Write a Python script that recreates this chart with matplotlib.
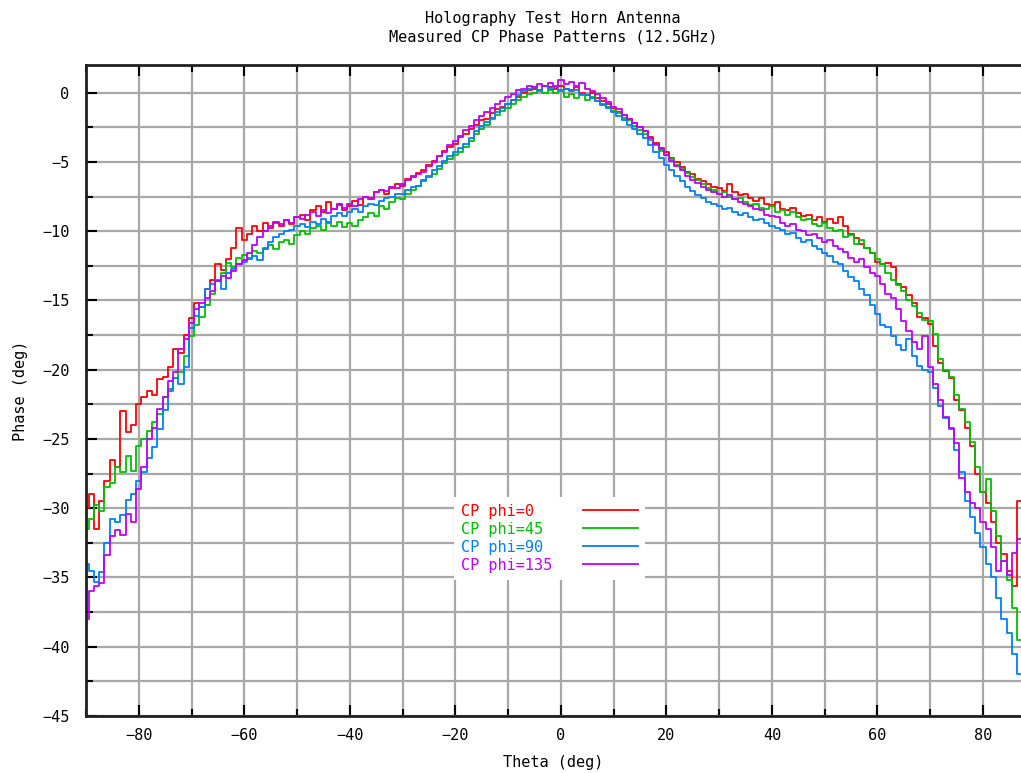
import matplotlib
matplotlib.use('Agg')
import matplotlib.pyplot as plt
from matplotlib.ticker import MultipleLocator
import numpy as np

theta = np.arange(-90, 88, 1)

phase_phi0 = [
    -30.0, -29.0, -31.5, -29.5, -28.0, -26.5, -27.0, -23.0, -24.5, -24.0,
    -22.5, -22.0, -21.5, -21.8, -20.7, -20.5, -19.8, -18.5, -18.8, -17.5,
    -16.3, -15.2, -15.5, -14.2, -13.5, -12.4, -12.8, -12.0, -11.2, -9.8,
    -10.6, -10.2, -9.6, -10.0, -9.4, -9.8, -9.3, -9.6, -9.2, -9.5,
    -9.0, -8.8, -9.2, -8.5, -8.2, -8.6, -7.9, -8.4, -8.0, -8.5,
    -8.2, -7.8, -8.1, -7.5, -7.7, -7.2, -7.0, -7.3, -6.9, -6.6,
    -6.7, -6.2, -6.0, -5.8, -5.6, -5.2, -4.9, -4.6, -4.2, -3.9,
    -3.7, -3.2, -3.0, -2.6, -2.3, -2.0, -1.9, -1.5, -1.2, -1.0,
    -0.8, -0.5, -0.3, 0.0, 0.2, 0.3, 0.2, 0.5, 0.4, 0.3,
    0.5, 0.3, 0.2, 0.4, 0.0, -0.2, 0.0, -0.4, -0.6, -0.8,
    -1.1, -1.4, -1.6, -1.9, -2.2, -2.5, -2.8, -3.2, -3.6, -4.0,
    -4.3, -4.7, -5.0, -5.4, -5.7, -5.9, -6.2, -6.4, -6.6, -6.8,
    -6.9, -7.1, -6.6, -7.2, -7.4, -7.3, -7.6, -7.8, -7.6, -8.0,
    -8.1, -7.9, -8.4, -8.5, -8.3, -8.7, -8.9, -8.8, -9.2, -9.0,
    -9.3, -9.1, -9.4, -9.0, -9.6, -10.2, -10.5, -10.9, -11.2, -11.6,
    -12.2, -12.4, -12.3, -12.6, -13.8, -14.0, -14.6, -15.2, -16.2, -16.3,
    -16.7, -18.3, -19.5, -20.1, -20.6, -22.2, -22.9, -24.2, -25.5, -27.5,
    -28.8, -29.6, -31.0, -32.5, -33.3, -34.5, -35.6, -29.5,
]

phase_phi45 = [
    -31.5, -30.8, -29.8, -30.2, -28.5, -28.2, -27.0, -27.4, -26.2, -27.3,
    -25.5, -25.0, -24.4, -23.8, -23.2, -22.0, -21.4, -20.6, -20.2, -19.0,
    -17.6, -16.8, -16.2, -15.3, -14.5, -13.6, -13.0, -12.3, -12.6, -11.9,
    -11.7, -11.9, -11.4, -11.6, -11.2, -11.0, -11.3, -10.8, -10.6, -10.9,
    -10.3, -10.0, -10.2, -9.8, -9.6, -9.9, -9.4, -9.6, -9.3, -9.7,
    -9.4, -9.6, -9.2, -9.0, -8.7, -8.9, -8.2, -8.4, -7.9, -7.6,
    -7.7, -7.3, -7.0, -6.7, -6.4, -6.1, -5.9, -5.5, -5.1, -4.8,
    -4.5, -4.3, -3.9, -3.5, -3.0, -2.6, -2.3, -1.9, -1.6, -1.3,
    -1.1, -0.8, -0.5, -0.3, -0.1, 0.0, 0.1, 0.0, 0.2, 0.0,
    0.1, -0.3, -0.1, -0.4, -0.2, -0.5, -0.3, -0.6, -0.8, -1.0,
    -1.3, -1.5, -1.8, -2.0, -2.4, -2.7, -3.0, -3.4, -3.8, -4.2,
    -4.5, -4.8, -5.2, -5.5, -5.8, -6.1, -6.3, -6.6, -6.9, -7.0,
    -7.3, -7.2, -7.5, -7.7, -7.6, -7.9, -8.1, -8.0, -8.3, -8.4,
    -8.2, -8.6, -8.5, -8.8, -8.6, -9.0, -9.2, -9.1, -9.5, -9.6,
    -9.4, -9.8, -10.0, -9.9, -10.4, -10.3, -10.9, -10.6, -11.2, -11.6,
    -12.0, -12.4, -13.0, -13.5, -13.9, -14.3, -15.0, -15.4, -15.9, -16.4,
    -16.5, -17.4, -19.2, -20.0, -20.5, -21.8, -22.8, -23.8, -25.2, -27.0,
    -28.8, -27.9, -30.2, -32.0, -33.8, -35.2, -37.2, -39.5,
]

phase_phi90 = [
    -34.0, -34.5, -35.3, -34.6, -32.5, -30.8, -31.0, -30.5, -29.4, -29.0,
    -28.0, -27.4, -26.4, -25.6, -24.3, -22.9, -21.5, -20.6, -21.0, -19.8,
    -17.0, -16.1, -15.5, -14.2, -13.8, -13.5, -14.2, -13.0, -12.7, -12.4,
    -12.2, -12.0, -11.8, -12.1, -11.3, -10.8, -10.4, -10.2, -10.0, -9.9,
    -9.6, -9.5, -9.7, -9.3, -9.5, -9.1, -9.3, -8.9, -8.7, -8.9,
    -8.6, -8.4, -8.6, -8.2, -8.0, -8.1, -7.8, -7.6, -7.5, -7.3,
    -7.3, -7.0, -6.8, -6.7, -6.3, -6.0, -5.6, -5.3, -4.9, -4.6,
    -4.3, -4.0, -3.7, -3.3, -2.8, -2.4, -2.1, -1.8, -1.4, -1.1,
    -0.8, -0.5, -0.2, 0.1, 0.3, 0.4, 0.2, 0.5, 0.3, 0.4,
    0.2, 0.3, 0.1, 0.2, -0.1, -0.2, -0.4, -0.6, -0.9, -1.1,
    -1.4, -1.7, -2.0, -2.3, -2.6, -3.0, -3.3, -3.8, -4.3, -4.7,
    -5.2, -5.6, -6.0, -6.4, -6.8, -7.1, -7.4, -7.6, -7.9, -8.0,
    -8.2, -8.4, -8.3, -8.6, -8.8, -8.7, -9.0, -9.2, -9.1, -9.4,
    -9.6, -9.8, -9.9, -10.2, -10.1, -10.5, -10.8, -10.6, -11.1, -11.3,
    -11.6, -11.8, -12.2, -12.4, -12.9, -13.3, -13.6, -14.2, -14.6, -15.3,
    -16.0, -16.8, -16.9, -17.6, -18.2, -18.6, -17.8, -19.0, -19.7, -20.0,
    -20.2, -21.3, -22.6, -23.5, -24.3, -25.8, -27.4, -29.5, -30.6, -31.8,
    -32.8, -34.0, -35.0, -36.5, -38.0, -39.0, -40.5, -42.0,
]

phase_phi135 = [
    -38.0, -36.0, -35.6, -35.4, -33.4, -32.0, -31.6, -31.9, -30.4, -31.0,
    -28.6, -27.0, -25.0, -24.2, -22.8, -22.0, -20.8, -20.2, -18.5, -17.8,
    -16.6, -15.6, -15.2, -14.8, -14.3, -13.6, -13.2, -13.4, -12.9, -12.4,
    -12.1, -11.6, -11.0, -10.4, -10.0, -9.6, -9.4, -9.5, -9.2, -9.4,
    -9.0, -9.1, -8.8, -8.6, -8.9, -8.5, -8.7, -8.4, -8.1, -8.3,
    -8.0, -8.2, -7.7, -7.5, -7.6, -7.2, -7.0, -7.1, -6.8, -6.9,
    -6.6, -6.3, -6.1, -5.9, -5.7, -5.3, -5.0, -4.6, -4.3, -3.8,
    -3.5, -3.1, -2.7, -2.4, -2.0, -1.7, -1.4, -1.1, -0.8, -0.6,
    -0.3, -0.1, 0.2, 0.3, 0.5, 0.4, 0.6, 0.5, 0.7, 0.5,
    0.9, 0.6, 0.8, 0.5, 0.7, 0.3, 0.1, -0.1, -0.4, -0.7,
    -1.0, -1.2, -1.6, -1.9, -2.2, -2.5, -2.8, -3.3, -3.7, -4.1,
    -4.5, -4.9, -5.3, -5.6, -6.0, -6.3, -6.5, -6.8, -7.0, -7.2,
    -7.3, -7.5, -7.4, -7.7, -7.9, -8.0, -8.2, -8.4, -8.5, -8.8,
    -8.9, -9.0, -9.4, -9.6, -9.5, -9.9, -10.0, -10.3, -10.2, -10.5,
    -10.8, -10.6, -11.1, -11.3, -11.5, -11.9, -12.2, -12.0, -12.6, -13.0,
    -13.2, -13.8, -14.5, -14.8, -15.6, -16.5, -17.2, -18.0, -18.5, -17.6,
    -19.8, -21.0, -22.2, -23.4, -24.2, -25.3, -27.8, -28.8, -29.6, -30.0,
    -31.0, -31.5, -32.8, -34.5, -33.8, -34.8, -33.2, -32.2,
]

labels = ['CP phi=0', 'CP phi=45', 'CP phi=90', 'CP phi=135']
colors = ['#ff0000', '#00c000', '#0080ff', '#c000ff']
series = [phase_phi0, phase_phi45, phase_phi90, phase_phi135]

plt.rcParams['font.family'] = ['DejaVu Sans Mono']
fs = 11

fig = plt.figure(figsize=(10.21, 7.73), dpi=100)
ax = fig.add_axes([86 / 1021, 1 - 716 / 773, 1 - 86 / 1021, (716 - 65) / 773])

# pad labels so the mono text stays left aligned next to the samples
width = max(len(l) for l in labels)
for y, c, lab in zip(series, colors, labels):
    ax.plot(theta, y, color=c, lw=1.3, drawstyle='steps-mid', label=lab.ljust(width))

ax.set_xlim(-90, 87.2)
ax.set_ylim(-45, 2)
ax.xaxis.set_major_locator(MultipleLocator(20))
ax.xaxis.set_minor_locator(MultipleLocator(10))
ax.yaxis.set_major_locator(MultipleLocator(5))
ax.yaxis.set_minor_locator(MultipleLocator(2.5))
ax.grid(True, which='both', color='#a8a8a8', lw=1.6)
ax.set_axisbelow(True)

ax.tick_params(which='both', direction='in', top=True, right=False,
               width=1.5, color='black', labelsize=fs)
ax.tick_params(which='major', length=8)
ax.tick_params(which='minor', length=5)
ax.tick_params(axis='x', which='major', pad=9)
ax.tick_params(axis='y', which='major', pad=12)

for s in ['left', 'top', 'bottom']:
    ax.spines[s].set_linewidth(2)
    ax.spines[s].set_color('#202020')
ax.spines['right'].set_visible(False)

ax.set_xlabel('Theta (deg)', fontsize=fs, labelpad=8)
ax.set_ylabel('Phase (deg)', fontsize=fs, labelpad=10)
fig.text(553 / 1021, 1 - 18 / 773, 'Holography Test Horn Antenna',
         ha='center', va='center', fontsize=fs)
fig.text(553 / 1021, 1 - 37 / 773, 'Measured CP Phase Patterns (12.5GHz)',
         ha='center', va='center', fontsize=fs)

leg = ax.legend(loc='upper left', bbox_to_anchor=(446 / 1021, 1 - 489 / 773),
                bbox_transform=fig.transFigure, markerfirst=False,
                fontsize=fs, handlelength=3.6, handletextpad=2.05,
                labelspacing=0.2, borderpad=0.45, frameon=True,
                fancybox=False, framealpha=1.0)
leg.get_frame().set_edgecolor('none')
leg.get_frame().set_facecolor('white')
for t, c in zip(leg.get_texts(), colors):
    t.set_color(c)

fig.savefig('out.png', dpi=100)
